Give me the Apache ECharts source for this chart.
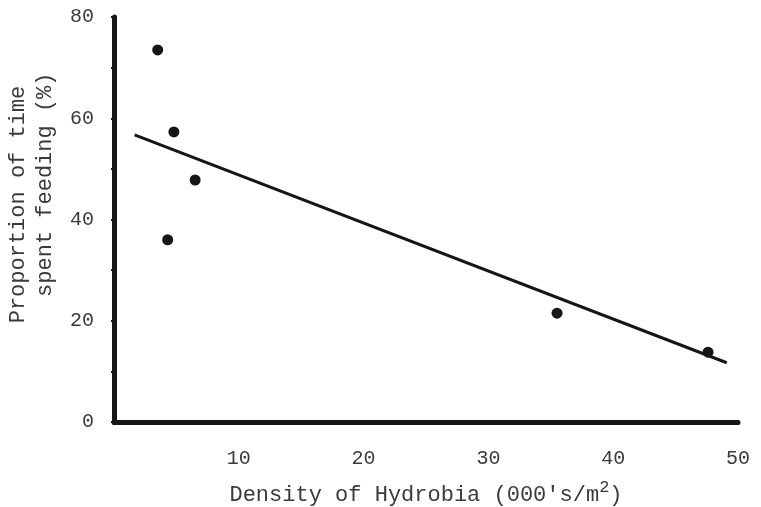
<!DOCTYPE html>
<html>
<head>
<meta charset="utf-8">
<script src="https://cdn.jsdelivr.net/npm/echarts@6/dist/echarts.min.js"></script>
<style>
  html, body { margin: 0; padding: 0; background: #fff; }
  #chart { width: 761px; height: 507px; }
</style>
</head>
<body>
<div id="chart"></div>
<script>
// density of Hydrobia (000's/m2) vs proportion of time spent feeding (%)
const densityValues = [3.5, 4.8, 6.5, 4.3, 35.5, 47.6];
const feedingValues = [73.5, 57.3, 47.8, 36, 21.5, 13.8];
// fitted regression line, two end points
const fitLine = [[1.65, 56.7], [49.1, 11.7]];

const xTickLabels = [10, 20, 30, 40, 50];
const yTickLabels = [0, 20, 40, 60, 80];

const fontMono = "'Liberation Mono', 'DejaVu Sans Mono', monospace";
const inkColor = '#161616';
const textColor = '#3a3a3a';

const chart = echarts.init(document.getElementById('chart'));

const option = {
  backgroundColor: '#ffffff',
  animation: false,
  grid: {
    left: 114,
    right: 23,
    top: 17,
    bottom: 85,
    containLabel: false,
    outerBoundsMode: 'none'
  },
  xAxis: {
    type: 'value',
    min: 0,
    max: 50,
    interval: 5,
    name: "{t|Density of Hydrobia (000's/m}{s|2}{t|)}",
    nameLocation: 'middle',
    nameGap: 57,
    nameTextStyle: {
      rich: {
        t: { fontFamily: fontMono, fontSize: 22, color: textColor, verticalAlign: 'bottom', lineHeight: 26 },
        s: { fontFamily: fontMono, fontSize: 17, color: textColor, verticalAlign: 'top', padding: [0, 0, 10, 0] }
      }
    },
    axisLine: { show: true, onZero: false, lineStyle: { color: inkColor, width: 5 } },
    axisTick: { show: true, length: 3, lineStyle: { color: inkColor, width: 2 } },
    axisLabel: {
      margin: 27,
      fontFamily: fontMono,
      fontSize: 20,
      color: textColor,
      formatter: v => (xTickLabels.includes(v) ? String(v) : '')
    },
    splitLine: { show: false }
  },
  yAxis: {
    type: 'value',
    min: 0,
    max: 80,
    interval: 10,
    name: 'Proportion of time\n   spent feeding (%)',
    nameLocation: 'middle',
    nameRotate: 90,
    nameGap: 54,
    nameTextStyle: {
      fontFamily: fontMono,
      fontSize: 22,
      lineHeight: 27,
      color: textColor,
      padding: [0, 0, 0, 30]
    },
    axisLine: { show: true, onZero: false, lineStyle: { color: inkColor, width: 5 } },
    axisTick: { show: true, length: 3, lineStyle: { color: inkColor, width: 2 } },
    axisLabel: {
      margin: 20,
      fontFamily: fontMono,
      fontSize: 20,
      color: textColor,
      formatter: v => (yTickLabels.includes(v) ? String(v) : '')
    },
    splitLine: { show: false }
  },
  series: [
    {
      name: 'Regression',
      type: 'line',
      data: fitLine,
      symbol: 'none',
      lineStyle: { color: inkColor, width: 3 },
      z: 2
    },
    {
      name: 'Observations',
      type: 'scatter',
      data: densityValues.map((d, i) => [d, feedingValues[i]]),
      symbol: 'circle',
      symbolSize: 11,
      itemStyle: { color: inkColor, opacity: 1 },
      z: 3
    }
  ]
};

chart.setOption(option);
</script>
</body>
</html>
